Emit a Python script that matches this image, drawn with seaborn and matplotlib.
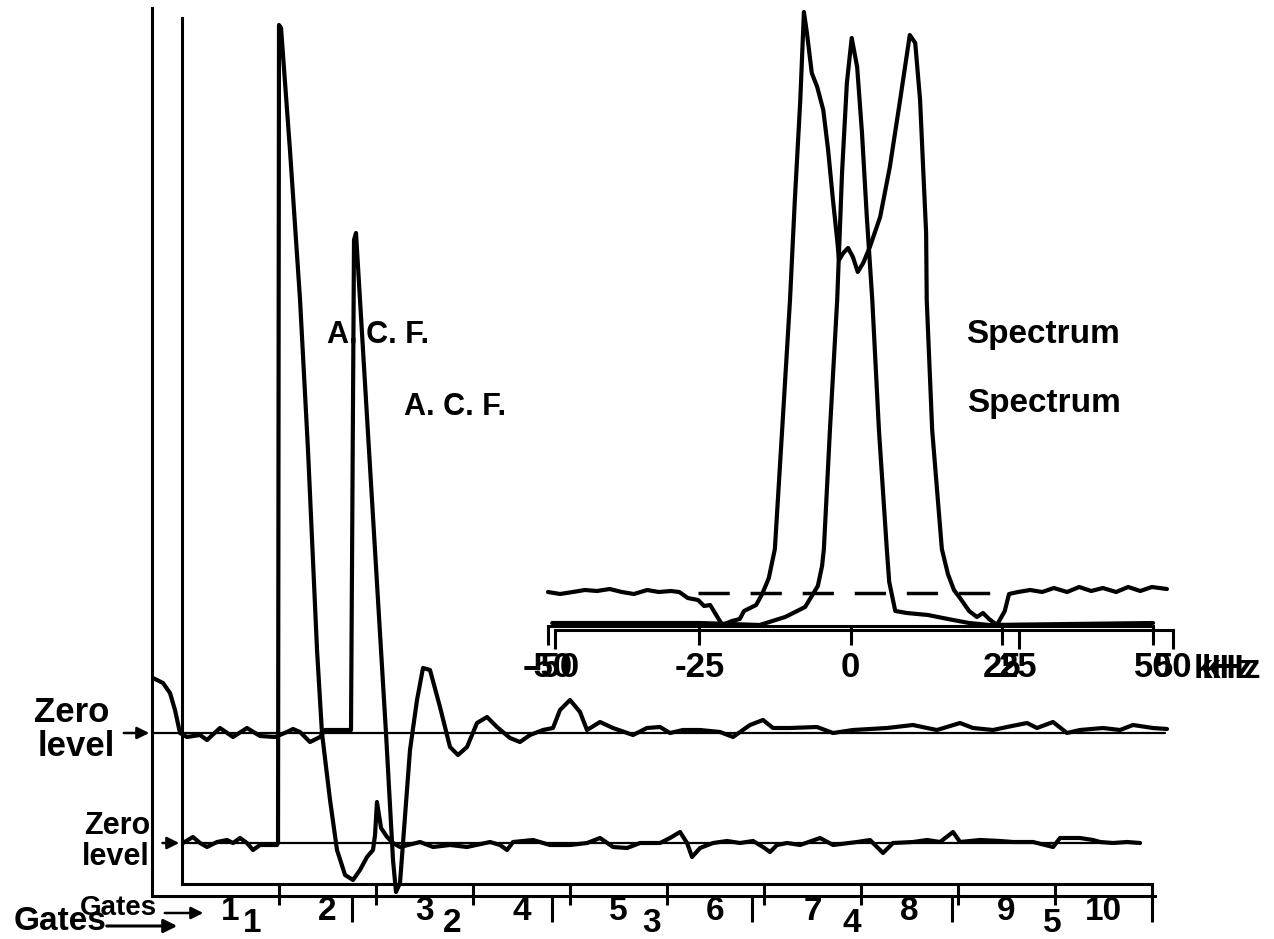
import matplotlib
matplotlib.use("Agg")
import numpy as np
import pandas as pd
import matplotlib.pyplot as plt
import seaborn as sns

# ACF record A (5 gates of 200 us), amplitude in arbitrary units, zero level = 0
lag_a = [1, 11, 18, 23, 28, 35, 48, 55, 68, 81, 95, 108, 123, 135, 141, 148, 158, 168, 173, 197,
         199, 202, 204, 214, 226, 234, 241, 244, 248, 258, 265, 271, 278, 288, 298, 306, 315, 325,
         335, 345, 358, 368, 378, 391, 401, 408, 418, 428, 435, 448, 461, 481, 495, 508, 518, 531,
         548, 568, 581, 598, 611, 621, 638, 665, 681, 701, 735, 761, 775, 785, 808, 821, 841, 855,
         875, 885, 901, 915, 928, 951, 968, 981, 1001, 1015]
acf_a = [55, 50, 40, 23, 0, -4, -2, -7, 5, -4, 5, -3, -4, 1, 4, 1, -9, -4, 3, 3,
         3, 493, 500, 333, 133, 0, -127, -159, -150, -17, 33, 65, 63, 26, -14, -22, -14, 10,
         16, 6, -5, -9, -2, 3, 5, 23, 33, 21, 3, 11, 5, -2, 5, 6, 0, 3,
         3, 1, -4, 8, 13, 5, 5, 6, 0, 3, 5, 8, 5, 3, 10, 5, 3, 6,
         10, 5, 11, 0, 3, 5, 3, 8, 5, 4]

# ACF record B (10 gates of 100 us)
lag_b = [1.0, 11.3, 18.6, 25.8, 36.1, 46.4, 52.6, 59.8, 67.0, 73.2, 80.4, 97.9, 99.0, 100.0,
         102.1, 111.3, 121.7, 129.9, 139.2, 144.3, 152.6, 159.8, 168.1, 176.3, 183.5, 190.7,
         196.9, 199.0, 201.0, 203.1, 205.2, 211.4, 217.5, 224.8, 245.4, 258.8, 276.3, 293.8,
         317.5, 327.9, 335.1, 341.3, 361.9, 379.4, 400.0, 417.6, 431.0, 444.4, 458.8, 472.2,
         492.8, 503.1, 513.4, 520.7, 525.8, 534.1, 547.5, 561.9, 575.3, 588.7, 599.0, 606.2,
         613.4, 623.8, 637.2, 657.8, 671.2, 695.9, 709.3, 722.7, 733.0, 753.7, 768.1, 781.5,
         794.9, 802.1, 822.7, 843.4, 856.8, 877.4, 898.0, 905.2, 925.8, 939.2, 946.5, 959.9,
         974.3, 987.7]
acf_b = [0, 6, 0, -4, 1, 3, 0, 5, 0, -7, -2, -2, 0, 818,
         815, 693, 543, 393, 193, 110, 43, -7, -32, -37, -27, -14,
         -7, 8, 41, 28, 15, 6, 0, -4, 1, -4, -2, -4,
         1, -2, -7, 1, 3, -2, -2, 0, 5, -4, -5, 0,
         0, 5, 11, 0, -14, -5, 0, 2, 0, 2, -4, -9,
         -2, 0, -2, 5, -2, 1, 3, -10, 0, 1, 3, 1,
         11, 1, 3, 2, 1, 1, -4, 5, 5, 3, 1, 0,
         1, 0]

# spectra, frequency in kHz, power in arbitrary units
freq_1 = [-50.0, -48.0, -45.9, -43.9, -41.9, -39.8, -37.8, -35.8, -33.6, -31.7, -29.7, -28.3,
          -26.9, -25.2, -24.2, -23.2, -21.2, -19.6, -18.3, -17.6, -15.6, -14.6, -13.5, -12.5,
          -11.3, -10.0, -9.2, -8.3, -7.7, -7.2, -6.4, -5.5, -4.5, -3.7, -2.9, -2.2, -1.9, -1.2,
          -0.4, 0.4, 1.2, 2.1, 3.2, 4.9, 6.5, 8.2, 9.8, 10.7, 11.5, 12.0, 12.5, 12.6, 13.5,
          15.1, 16.1, 17.1, 18.1, 19.6, 20.9, 21.9, 22.9, 24.2, 25.5, 26.2, 27.7, 29.7, 31.7,
          33.6, 35.8, 37.8, 39.8, 41.7, 43.9, 45.9, 47.9, 49.8, 52.3]
spec_1 = [32, 30, 32, 34, 33, 35, 32, 30, 34, 32, 33, 32,
          26, 24, 18, 19, -1, 3, 5, 13, 19, 30, 46, 75,
          194, 324, 424, 524, 612, 591, 551, 537, 514, 474, 424, 384, 364, 371,
          376, 367, 352, 361, 377, 407, 457, 524, 589, 581, 524, 457, 391, 324, 194,
          75, 50, 34, 26, 13, 7, 11, 5, -1, 13, 30, 32, 34, 32,
          36, 32, 37, 33, 36, 32, 37, 33, 37, 35]
freq_2 = [-49.3, -24.9, -15.0, -10.8, -7.5, -5.4, -4.7, -4.4, -3.4, -2.2, -1.4, -0.6, 0.2,
          1.1, 1.9, 2.7, 3.6, 4.7, 6.0, 6.4, 7.4, 9.3, 12.8, 16.1, 19.6, 22.9, 50.0]
spec_2 = [1, 1, -1, 7, 17, 38, 58, 75, 194, 324, 451, 541, 586,
          557, 491, 407, 324, 194, 75, 42, 13, 11, 9, 5, 1, -1, 1]
noise_level = 31
noise_span = [-25.2, 24.5]

gates_a = ['1', '2', '3', '4', '5']
gates_b = ['1', '2', '3', '4', '5', '6', '7', '8', '9', '10']
freq_ticks = [-50, -25, 0, 25, 50]
freq_labels = ['-50', '-25', '0', '25', '50']
# the second (shifted) exposure of the frequency scale only shows apart at these
freq_ticks_2 = [-50, 25, 50]
freq_labels_2 = ['-50', '25', '50']

sns.set_style("white")
plt.rcParams['font.family'] = ['Liberation Sans', 'DejaVu Sans']
plt.rcParams['font.weight'] = 'bold'
plt.rcParams['text.color'] = 'black'
plt.rcParams['xtick.color'] = 'black'
plt.rcParams['xtick.labelcolor'] = 'black'

W, H = 1274, 939
fig = plt.figure(figsize=(W / 100, H / 100), dpi=100)


def box(left, top, right, bottom):
    return [left / W, 1 - bottom / H, (right - left) / W, (bottom - top) / H]


def P(x, y):
    return (x / W, 1 - y / H)


LW = 3.0
SW = 2.2

def clean(ax, left=True):
    ax.set_facecolor('none')
    for s in ['top', 'right']:
        ax.spines[s].set_visible(False)
    ax.spines['left'].set_visible(left)
    for s in ['left', 'bottom']:
        ax.spines[s].set_linewidth(SW)
        ax.spines[s].set_color('black')
    ax.tick_params(axis='y', left=False, labelleft=False)
    ax.set_xlabel('')
    ax.set_ylabel('')

# ---- record A ----
axA = fig.add_axes(box(152, 8, 1182, 896))
sns.lineplot(x=lag_a, y=acf_a, ax=axA, color='black', lw=LW, sort=False, estimator=None)
axA.set_xlim(0, 1030)
axA.set_ylim(-163, 725)
axA.axhline(0, xmin=0, xmax=1013 / 1030, color='black', lw=1.6)
clean(axA)
axA.spines['bottom'].set_bounds(0, 1003)
axA.set_xticks([200, 400, 600, 800, 1000])
axA.set_xticklabels([])
axA.set_xticks([100, 300, 500, 700, 900], minor=True)
axA.set_xticklabels(gates_a, minor=True)
axA.tick_params(axis='x', which='major', direction='out', length=19, width=SW, bottom=True)
axA.tick_params(axis='x', which='minor', length=0, pad=9, labelsize=24, bottom=True)
axA.annotate('', xy=(0, 0), xytext=(-31, 0), xycoords='data', annotation_clip=False,
             arrowprops=dict(arrowstyle='-|>', color='black', lw=1.8, mutation_scale=18))

# ---- record B ----
axB = fig.add_axes(box(182, 18, 1152, 884))
sns.lineplot(x=lag_b, y=acf_b, ax=axB, color='black', lw=LW, sort=False, estimator=None)
axB.set_xlim(0, 1000)
axB.set_ylim(-41, 825)
axB.axhline(0, xmin=0, xmax=0.988, color='black', lw=1.6)
clean(axB)
axB.set_xticks(np.arange(100, 1001, 100))
axB.set_xticklabels([])
axB.set_xticks(np.arange(50, 1000, 100), minor=True)
axB.set_xticklabels(gates_b, minor=True)
axB.tick_params(axis='x', which='major', direction='out', length=15, width=SW, bottom=True)
axB.tick_params(axis='x', which='minor', length=0, pad=9, labelsize=24, bottom=True)
axB.annotate('', xy=(0, 0), xytext=(-23, 0), xycoords='data', annotation_clip=False,
             arrowprops=dict(arrowstyle='-|>', color='black', lw=1.8, mutation_scale=18))

# ---- spectra ----
axS = fig.add_axes(box(548, 5, 1153, 626))
sns.lineplot(x=freq_1, y=spec_1, ax=axS, color='black', lw=LW, sort=False, estimator=None)
sns.lineplot(x=freq_2, y=spec_2, ax=axS, color='black', lw=LW, sort=False, estimator=None)
axS.plot(noise_span, [noise_level, noise_level], color='black', lw=2.5, dashes=(9, 6))
for ln in axS.lines:
    ln.set_clip_on(False)
axS.set_xlim(-50, 50)
axS.set_ylim(-2, 619)
clean(axS, left=False)
axS.set_xticks(freq_ticks)
axS.set_xticklabels(freq_labels)
axS.tick_params(axis='x', direction='out', length=14, width=SW, pad=4, labelsize=25, bottom=True)

# second exposure of the frequency axis, slightly shifted
axS2 = fig.add_axes(box(555, 5, 1173, 630))
axS2.set_xlim(-50, 50)
axS2.set_ylim(-2, 619)
clean(axS2, left=False)
axS2.set_xticks(freq_ticks_2)
axS2.set_xticklabels(freq_labels_2)
axS2.tick_params(axis='x', direction='out', length=14, width=SW, pad=1, labelsize=25, bottom=True)

# ---- annotations ----
fig.text(*P(1194, 670), 'kHz', fontsize=24, ha='left', va='center')
fig.text(*P(1202, 670), 'kHz', fontsize=24, ha='left', va='center')

fig.text(*P(378, 335), 'A. C. F.', fontsize=22, ha='center', va='center')
fig.text(*P(455, 407), 'A. C. F.', fontsize=22, ha='center', va='center')
fig.text(*P(1043, 335), 'Spectrum', fontsize=24, ha='center', va='center')
fig.text(*P(1044, 403), 'Spectrum', fontsize=24, ha='center', va='center')

fig.text(*P(72, 712), 'Zero', fontsize=25, ha='center', va='center')
fig.text(*P(76, 747), 'level', fontsize=25, ha='center', va='center')
fig.text(*P(117, 826), 'Zero', fontsize=22, ha='center', va='center')
fig.text(*P(116, 857), 'level', fontsize=22, ha='center', va='center')

fig.text(*P(118, 908), 'Gates', fontsize=20, ha='center', va='center')
fig.text(*P(60, 922), 'Gates', fontsize=24, ha='center', va='center')
fig.add_artist(plt.matplotlib.patches.FancyArrowPatch(
    P(162, 913), P(206, 913), transform=fig.transFigure, arrowstyle='-|>',
    mutation_scale=18, lw=1.8, color='black'))
fig.add_artist(plt.matplotlib.patches.FancyArrowPatch(
    P(104, 926), P(180, 926), transform=fig.transFigure, arrowstyle='-|>',
    mutation_scale=20, lw=2.2, color='black'))

fig.savefig('out.png', dpi=100, facecolor='white')
